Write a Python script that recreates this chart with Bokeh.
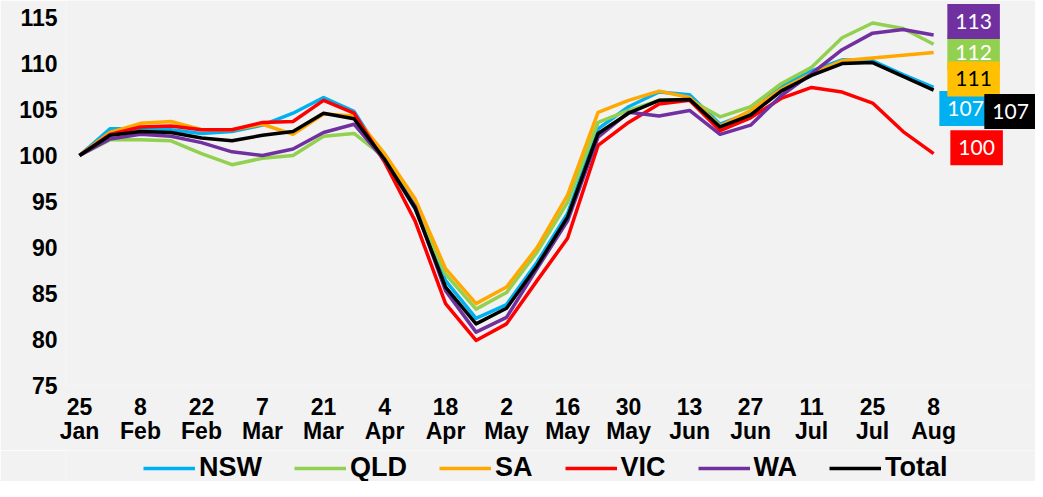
from bokeh.plotting import figure
from bokeh.models import Range1d, FixedTicker, Legend, LegendItem, Label, LinearAxis
from bokeh.layouts import column
from bokeh.embed import file_html
from bokeh.resources import INLINE

tick_days = ["25", "8", "22", "7", "21", "4", "18", "2", "16", "30", "13", "27", "11", "25", "8"]
tick_months = ["Jan", "Feb", "Feb", "Mar", "Mar", "Apr", "Apr", "May", "May", "May", "Jun", "Jun",
               "Jul", "Jul", "Aug"]

nsw = [100, 102.9, 102.9, 102.8, 102.4, 102.6, 103.3, 104.6, 106.3, 104.8, 99.6, 94.2, 86.4, 82.3,
       83.8, 88.4, 93.7, 102.9, 105.3, 106.9, 106.6, 103.4, 104.7, 107.5, 109.2, 110.4, 110.3, 108.8, 107.4]
qld = [100, 101.7, 101.7, 101.6, 100.2, 99.0, 99.7, 100.0, 102.1, 102.4, 99.8, 94.6, 87.1, 83.3,
       85.1, 89.5, 94.9, 103.6, 104.9, 106.0, 106.1, 104.2, 105.3, 107.8, 109.6, 112.8, 114.4, 113.8, 112.1]
sa = [100, 102.5, 103.5, 103.7, 102.8, 102.8, 103.4, 102.3, 104.5, 104.3, 100.2, 95.3, 87.7, 83.9,
      85.7, 90.0, 95.7, 104.7, 106.0, 107.0, 106.3, 103.2, 104.9, 107.2, 108.9, 110.3, 110.6, 110.9, 111.2]
vic = [100, 102.3, 103.1, 103.2, 102.8, 102.8, 103.6, 103.7, 106.0, 104.6, 99.3, 92.9, 83.9, 79.9,
       81.7, 86.4, 91.0, 101.1, 103.6, 105.6, 106.0, 102.7, 104.1, 106.2, 107.4, 106.9, 105.7, 102.6, 100.2]
wa = [100, 101.8, 102.3, 102.1, 101.4, 100.4, 100.0, 100.7, 102.5, 103.4, 99.5, 94.5, 85.3, 80.8,
      82.4, 87.7, 92.9, 102.0, 104.7, 104.3, 104.9, 102.3, 103.3, 106.5, 108.9, 111.5, 113.3, 113.7, 113.1]
total = [100, 102.2, 102.6, 102.5, 101.9, 101.6, 102.2, 102.6, 104.6, 104.0, 99.6, 94.3, 85.7, 81.7,
         83.4, 88.0, 93.3, 102.4, 104.6, 106.0, 106.1, 103.1, 104.4, 107.0, 108.7, 110.0, 110.1, 108.6, 107.1]

series_names = ["NSW", "QLD", "SA", "VIC", "WA", "Total"]
series_values = [nsw, qld, sa, vic, wa, total]
line_colors = ["#00B0F0", "#92D050", "#FFA800", "#FF0000", "#7030A0", "#000000"]

weeks = list(range(len(nsw)))

BG = "#F2F2F2"
W = 1035
p = figure(width=W, height=450, output_backend="svg", toolbar_location=None,
           x_range=Range1d(-0.426, 31.34), y_range=Range1d(75, 116.85),
           x_axis_location=None,
           min_border_left=66, min_border_right=0, min_border_top=0, min_border_bottom=65,
           background_fill_color=BG, border_fill_color=BG, outline_line_color=None)
p.grid.visible = False

tick_pos = list(range(0, len(nsw), 2))
ax_day = LinearAxis(ticker=FixedTicker(ticks=tick_pos),
                    major_label_overrides={t: lab for t, lab in zip(tick_pos, tick_days)},
                    major_label_standoff=12)
ax_mon = LinearAxis(ticker=FixedTicker(ticks=tick_pos),
                    major_label_overrides={t: lab for t, lab in zip(tick_pos, tick_months)},
                    major_label_standoff=0)
p.add_layout(ax_day, "below")
p.add_layout(ax_mon, "below")

for ax in (ax_day, ax_mon, p.yaxis[0]):
    ax.axis_line_color = None
    ax.major_tick_line_color = None
    ax.minor_tick_line_color = None
    ax.major_tick_out = 0
    ax.major_tick_in = 0
    ax.major_label_text_font = "Liberation Sans"
    ax.major_label_text_font_style = "bold"
    ax.major_label_text_font_size = "23px"
    ax.major_label_text_color = "#000000"

p.yaxis.ticker = FixedTicker(ticks=[75, 80, 85, 90, 95, 100, 105, 110, 115])
p.yaxis.major_label_standoff = 9

for name, vals, col in zip(series_names, series_values, line_colors):
    p.line(weeks, vals, line_color=col, line_width=3.5, line_join="round")

# end-of-line value labels: (series, box colour, text colour, x offset, y offset)
label_specs = [("NSW", "#00B0F0", "white", 32, -21),
               ("QLD", "#92D050", "white", 40, -8),
               ("WA", "#7030A0", "white", 40, 13.5),
               ("SA", "#FFC000", "black", 40, -26.5),
               ("Total", "#000000", "white", 77, -21.3),
               ("VIC", "#FF0000", "white", 43, 6)]
for name, bg, fg, dx, dy in label_specs:
    vals = series_values[series_names.index(name)]
    p.add_layout(Label(x=weeks[-1], y=vals[-1], x_offset=dx, y_offset=dy,
                       text=str(round(vals[-1])), text_align="center", text_baseline="middle",
                       text_font="Lato", text_font_size="21px", text_color=fg,
                       background_fill_color=bg,
                       padding=dict(left=8, right=8, top=10, bottom=10)))

# legend strip below the chart (its lines lie outside its own ranges, only the legend shows)
lg = figure(width=W, height=31, output_backend="svg", toolbar_location=None,
            x_range=Range1d(0, 1), y_range=Range1d(0, 1),
            x_axis_location=None, y_axis_location=None,
            min_border_left=66, min_border_right=0, min_border_top=0, min_border_bottom=0,
            background_fill_color=BG, border_fill_color=BG, outline_line_color=None)
lg.grid.visible = False
legend_renderers = [lg.line(weeks, vals, line_color=col, line_width=3.5)
                    for vals, col in zip(series_values, line_colors)]
legend = Legend(items=[LegendItem(label=n, renderers=[r])
                       for n, r in zip(series_names, legend_renderers)],
                orientation="horizontal", location=(77, -2),
                label_text_font="Liberation Sans", label_text_font_style="bold",
                label_text_font_size="27px", label_text_color="#000000",
                label_standoff=4, spacing=32,
                glyph_width=52, glyph_height=20, padding=0, margin=0,
                background_fill_alpha=0, border_line_color=None)
lg.add_layout(legend, "center")

open("out.html", "w").write(file_html(column(p, lg, spacing=0), INLINE))
